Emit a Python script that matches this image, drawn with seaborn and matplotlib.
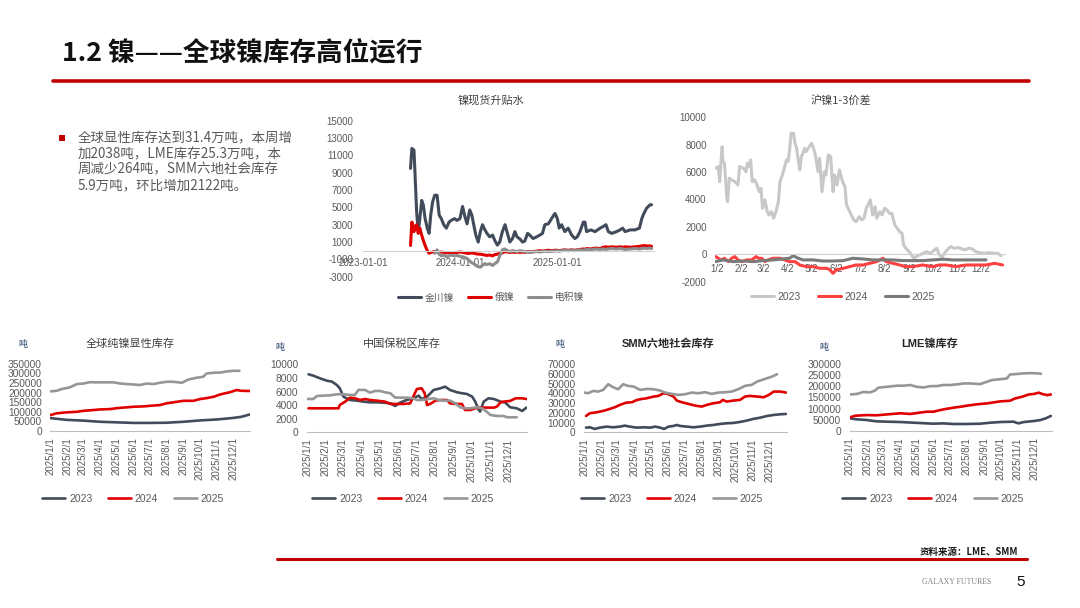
import numpy as np
import pandas as pd
import matplotlib
matplotlib.use('Agg')
import matplotlib.pyplot as plt
import matplotlib.dates as mdates
from matplotlib.lines import Line2D
from matplotlib.patches import Rectangle
from matplotlib.ticker import FuncFormatter
import seaborn as sns

nan = np.nan

# ---------------- data: 镍现货升贴水 ----------------
spot_dates = [
    "2023-06-29", "2023-07-04", "2023-07-12", "2023-07-15", "2023-07-22", "2023-07-28", "2023-08-03", "2023-08-10", "2023-08-16", "2023-08-23",
    "2023-08-31", "2023-09-07", "2023-09-13", "2023-09-20", "2023-09-28", "2023-10-07", "2023-10-15", "2023-10-23", "2023-11-01", "2023-11-11",
    "2023-11-21", "2023-11-29", "2023-12-12", "2023-12-21", "2024-01-01", "2024-01-11", "2024-01-20", "2024-01-28", "2024-02-07", "2024-02-15",
    "2024-02-22", "2024-03-01", "2024-03-10", "2024-03-18", "2024-03-26", "2024-04-04", "2024-04-12", "2024-04-22", "2024-05-03", "2024-05-11",
    "2024-05-21", "2024-05-30", "2024-06-09", "2024-06-19", "2024-06-28", "2024-07-07", "2024-07-17", "2024-07-26", "2024-08-03", "2024-08-14",
    "2024-08-24", "2024-09-01", "2024-09-12", "2024-09-20", "2024-10-03", "2024-10-16", "2024-10-28", "2024-11-07", "2024-11-16", "2024-11-29",
    "2024-12-11", "2024-12-24", "2025-01-02", "2025-01-09", "2025-01-18", "2025-01-30", "2025-02-12", "2025-02-25", "2025-03-09", "2025-03-18",
    "2025-03-28", "2025-04-10", "2025-04-16", "2025-04-22", "2025-05-08", "2025-05-24", "2025-06-12", "2025-06-24", "2025-07-04", "2025-07-13",
    "2025-07-26", "2025-08-13", "2025-08-26", "2025-09-05", "2025-09-14", "2025-10-03", "2025-10-21", "2025-11-07", "2025-11-16", "2025-11-24",
    "2025-12-04", "2025-12-17", "2025-12-23"]
spot_jinchuan = [
    9500, 11800, 11600, 9500, 4500, 2200, 3700, 5800, 5300, 3700,
    2600, 2000, 4100, 5600, 6400, 6400, 4100, 3700, 3000, 2600,
    3300, 3500, 3700, 3500, 3700, 5100, 3900, 3100, 4700, 4100,
    3000, 1800, 1000, 2200, 3000, 2400, 2000, 1600, 1800, 1200,
    650, 1000, 2200, 3000, 2000, 1000, 1400, 2200, 1600, 1350,
    1000, 1100, 2000, 1800, 1400, 1600, 1800, 2000, 3000, 3100,
    3700, 4300, 3700, 2600, 3000, 2200, 2600, 1800, 1400, 1600,
    2200, 3300, 3300, 2200, 2400, 2200, 2600, 2800, 3000, 2200,
    2000, 2200, 2400, 2600, 2200, 2400, 2400, 2600, 3700, 4300,
    4900, 5300, 5300]
spot_russian = [
    600, 3300, 2200, 2800, 3000, 2000, 2600, 1800, 1200, 600,
    0, -300, -200, -150, -100, -150, -200, -150, -200, -250,
    -200, -250, -200, -200, -150, -200, -250, -300, -300, -250,
    -300, -350, -400, -400, -450, -500, -550, -500, -600, -450,
    -400, -300, -250, -100, -150, -200, -150, -200, -150, -200,
    -150, -200, -100, -150, -100, -50, 0, -50, 0, 50,
    0, 50, 50, 0, 50, 100, 50, 100, 50, 100,
    150, 200, 150, 250, 200, 300, 250, 400, 450, 400,
    450, 400, 450, 400, 450, 400, 450, 500, 550, 600,
    550, 550, 500]
spot_electro = [
    nan, nan, nan, nan, nan, nan, nan, nan, nan, nan,
    nan, nan, nan, nan, -300, 100, -400, -600, -500, -700,
    -600, -500, -600, -550, -650, -700, -800, -900, -1200, -1400,
    -1500, -1700, -1850, -1900, -1700, -1500, -1600, -1500, -1700, -1500,
    -1300, -600, 100, 200, 0, -100, 0, -50, -100, 0,
    -50, -100, -150, -200, -150, -100, -150, -100, -50, -100,
    -50, -50, 0, -50, 0, 50, 0, 50, 0, 50,
    100, 50, 100, 150, 100, 200, 150, 200, 150, 200,
    250, 200, 250, 200, 150, 200, 250, 200, 250, 300,
    250, 300, 250]
spot_tick_labels = ["2023-01-01", "2024-01-01", "2025-01-01"]

# ---------------- data: 沪镍1-3价差 (day of year) ----------------
sp23_day = [1, 4, 6, 7, 9, 10, 12, 15, 16, 18, 21, 25, 29, 31, 36, 39, 41, 43, 45, 47,
            50, 53, 56, 58, 60, 63, 66, 68, 71, 74, 77, 80, 82, 85, 88, 90, 92, 94, 96, 99,
            101, 103, 105, 107, 109, 111, 113, 115, 119, 122, 125, 127, 130, 132, 135, 138, 140, 143, 146, 149,
            151, 154, 157, 161, 164, 166, 169, 172, 175, 178, 182, 185, 188, 191, 194, 196, 199, 202, 204, 208,
            211, 214, 217, 220, 223, 227, 230, 233, 236, 238, 241, 245, 248, 251, 254, 258, 263, 267, 272, 277,
            280, 283, 287, 291, 295, 298, 302, 307, 312, 316, 320, 325, 329, 334, 340, 346, 353, 357, 361]
sp23_val = [6280, 6400, 5300, 6280, 7860, 6760, 6640, 4090, 3840, 5550, 5430, 5300, 5060, 6400, 6280, 6030, 6640, 6400, 6890, 5300,
            5430, 5060, 4570, 4820, 3360, 3970, 3110, 2870, 3110, 2630, 3110, 3840, 5300, 5790, 6400, 6890, 6760, 7490, 8830, 8830,
            8100, 7740, 6890, 6160, 7130, 7370, 7740, 7490, 7860, 8100, 7620, 7130, 6030, 7010, 4570, 6030, 5790, 7250, 7130, 4570,
            5790, 5060, 6160, 5300, 4940, 3600, 3240, 2870, 2510, 2380, 2750, 2510, 2630, 3360, 3720, 3970, 2870, 3480, 2630, 3110,
            2870, 3360, 3240, 2990, 2990, 2140, 1900, 1650, 1530, 680, 440, 190, -50, -290, -170, -50, 70, 190, 70, 320,
            440, -50, -170, 190, 440, 560, 440, 490, 390, 320, 440, 390, 190, 120, 70, 120, 70, 70, -100]
sp24_day = [1, 4, 8, 12, 17, 21, 25, 29, 34, 40, 46, 52, 55, 59, 63, 67, 73, 82, 88, 94,
            101, 107, 115, 124, 132, 141, 145, 149, 153, 162, 170, 178, 187, 195, 204, 212, 216, 225, 233, 241,
            250, 262, 275, 283, 292, 304, 317, 330, 342, 353, 363]
sp24_val = [-170, -290, -410, -290, -535, -290, -170, -410, -535, -410, -410, -170, -290, -290, -535, -410, -290, -290, -410, -535,
            -535, -780, -900, -900, -1020, -1020, -1140, -1390, -1140, -1020, -900, -780, -780, -660, -535, -290, -535, -660, -780, -900,
            -900, -780, -900, -780, -780, -900, -780, -780, -780, -660, -780]
sp25_day = [1, 10, 23, 36, 48, 61, 73, 86, 94, 99, 103, 111, 124, 136, 149, 162, 174, 187, 199, 212,
            225, 237, 250, 262, 275, 288, 300, 313, 325, 342]
sp25_val = [-535, -410, -535, -490, -535, -460, -410, -340, -290, -100, -240, -410, -410, -490, -490, -460, -290, -340, -410, -410,
            -410, -460, -460, -460, -410, -360, -410, -410, -410, -410]
spread_tick_days = [2, 33, 61, 92, 122, 153, 183, 214, 245, 275, 306, 336]
spread_tick_labels = ["1/2", "2/2", "3/2", "4/2", "5/2", "6/2", "7/2", "8/2", "9/2", "10/2", "11/2", "12/2"]

# ---------------- data: inventory charts (day of year) ----------------
inv_tick_days = [1, 32, 60, 91, 121, 152, 182, 213, 244, 274, 305, 335]
inv_tick_labels = ["2025/1/1", "2025/2/1", "2025/3/1", "2025/4/1", "2025/5/1", "2025/6/1",
                   "2025/7/1", "2025/8/1", "2025/9/1", "2025/10/1", "2025/11/1", "2025/12/1"]

# 全球纯镍显性库存
g1_2023_day = [1, 30, 61, 91, 122, 152, 183, 213, 244, 274, 305, 335, 350, 365]
g1_2023_val = [67000, 58000, 54000, 48000, 45000, 42000, 42000, 43000, 48000, 55000, 60000, 68000, 74000, 86000]
g1_2024_day = [1, 12, 30, 49, 61, 79, 91, 110, 122, 140, 152, 171, 183, 201, 213, 232, 244, 262, 274, 286, 299, 311, 329, 341, 350, 365]
g1_2024_val = [83000, 92000, 97000, 100000, 105000, 109000, 112000, 114000, 119000, 123000, 126000, 128000, 131000, 135000, 144000,
               152000, 157000, 157000, 166000, 171000, 178000, 190000, 202000, 213000, 209000, 208000]
g1_2025_day = [1, 12, 21, 36, 49, 61, 73, 85, 103, 116, 128, 140, 152, 164, 177, 189, 201, 213, 225, 241, 253, 268, 280, 286, 299, 311, 323, 335, 346]
g1_2025_val = [206000, 209000, 218000, 227000, 244000, 247000, 254000, 253000, 253000, 253000, 247000, 244000, 242000, 239000, 247000,
               244000, 251000, 256000, 256000, 251000, 268000, 277000, 282000, 299000, 303000, 304000, 310000, 313000, 313000]

# 中国保税区库存
g2_2023_day = [3, 11, 22, 33, 42, 50, 55, 61, 66, 72, 83, 94, 105, 116, 128, 139, 147, 155, 166, 177, 186, 191, 200, 211, 222, 230,
               238, 250, 258, 266, 275, 280, 286, 288, 294, 302, 311, 322, 330, 338, 349, 358, 365]
g2_2023_val = [8530, 8330, 7940, 7600, 7450, 6960, 6470, 5240, 5000, 4750, 4660, 4510, 4410, 4410, 4360, 4260, 3870, 4360, 4750, 5000,
               5390, 4900, 5240, 6230, 6470, 6710, 6230, 5880, 5740, 5640, 5240, 4510, 3280, 3040, 4510, 5000, 4900, 4510, 4360, 3680,
               3530, 3140, 3630]
g2_2024_day = [3, 22, 39, 53, 55, 64, 72, 80, 89, 97, 105, 116, 130, 139, 150, 161, 172, 177, 183, 191, 196, 200, 205, 214, 222, 233,
               238, 250, 258, 263, 272, 280, 288, 299, 311, 316, 322, 327, 338, 347, 358, 365]
g2_2024_val = [3530, 3530, 3530, 3530, 4020, 4510, 5100, 5000, 4750, 4900, 4750, 4660, 4510, 4170, 4170, 4170, 4260, 5240, 6370, 6470,
               5740, 4020, 4170, 4660, 4750, 4750, 4260, 4170, 4170, 3280, 3280, 3530, 3630, 3630, 3630, 3770, 4410, 4510, 4610, 5000,
               5000, 4900]
g2_2025_day = [1, 11, 17, 28, 39, 50, 61, 72, 80, 86, 97, 105, 114, 122, 130, 139, 147, 155, 166, 177, 183, 191, 202, 211, 219, 227,
               238, 247, 255, 263, 272, 283, 291, 299, 305, 316, 327, 333, 349]
g2_2025_val = [4900, 4900, 5340, 5390, 5440, 5590, 5590, 5490, 5490, 6230, 6230, 5830, 6080, 6080, 5880, 5740, 5100, 5100, 5100, 5000,
               4750, 4750, 4900, 5000, 4750, 4660, 4660, 4260, 3680, 3530, 3530, 3680, 3530, 3040, 2550, 2400, 2400, 2210, 2210]

# SMM六地社会库存
g3_2023_day = [4, 11, 20, 29, 41, 53, 65, 74, 83, 96, 108, 120, 129, 138, 145, 153, 162, 168, 174, 186, 198, 210, 222, 234, 246, 258,
               270, 282, 294, 306, 319, 331, 343, 355, 365]
g3_2023_val = [4800, 5150, 3440, 4800, 5840, 5150, 5840, 6870, 5840, 4800, 5150, 4800, 5840, 4800, 3440, 5840, 6530, 7560, 6530, 5840,
               5150, 5840, 6870, 7560, 8590, 9280, 9620, 10650, 12030, 13750, 15120, 16840, 17870, 18560, 18900]
g3_2024_day = [4, 11, 23, 35, 47, 56, 65, 77, 87, 96, 105, 114, 126, 135, 144, 153, 162, 168, 177, 189, 201, 213, 222, 234, 246, 251,
               258, 270, 282, 291, 300, 313, 325, 334, 343, 355, 365]
g3_2024_val = [16840, 19590, 20620, 22000, 24050, 25770, 28180, 30580, 30930, 33330, 34360, 35050, 36770, 37460, 40210, 39180, 36770,
               32650, 30930, 29210, 27490, 26460, 28180, 29900, 30930, 33330, 31620, 32650, 33330, 36770, 37460, 36770, 36080, 38490,
               41920, 41920, 40890]
g3_2025_day = [1, 8, 17, 26, 35, 44, 53, 62, 71, 80, 90, 102, 114, 126, 138, 147, 159, 171, 183, 195, 207, 219, 231, 243, 255, 267,
               279, 291, 303, 313, 322, 331, 340, 349]
g3_2025_val = [40890, 40210, 42610, 41920, 43640, 49480, 46390, 44330, 49480, 47770, 47080, 43640, 44670, 44330, 42950, 40890, 39520,
               38490, 39180, 40890, 40210, 41240, 39520, 40890, 41240, 41920, 44330, 47770, 48800, 52230, 53950, 55670, 57390, 59790]

# LME镍库存
g4_2023_day = [1, 13, 31, 49, 68, 92, 116, 140, 152, 170, 189, 213, 237, 255, 273, 297, 306, 316, 334, 346, 355, 365]
g4_2023_val = [56000, 52000, 49000, 43000, 41500, 40000, 37000, 34000, 32600, 34000, 31200, 31200, 32600, 37000, 40000, 41500, 34000,
               40000, 44500, 49000, 56000, 67000]
g4_2024_day = [1, 10, 31, 49, 68, 92, 110, 128, 140, 152, 164, 176, 189, 201, 213, 231, 249, 273, 291, 300, 313, 325, 334, 343, 349, 358, 365]
g4_2024_val = [61000, 68000, 71000, 70000, 74000, 79000, 76000, 82000, 86000, 86000, 93000, 99000, 104000, 108000, 113000, 119000,
               123000, 132000, 135000, 145000, 153000, 163000, 165000, 171000, 165000, 160000, 163000]
g4_2025_day = [1, 13, 25, 37, 46, 52, 68, 86, 98, 110, 122, 134, 146, 158, 170, 183, 195, 207, 219, 237, 246, 258, 273, 285, 291, 303,
               316, 328, 340, 347]
g4_2025_val = [163000, 165000, 174000, 172000, 180000, 193000, 197000, 202000, 202000, 205000, 197000, 194000, 200000, 200000, 205000,
               205000, 208000, 212000, 212000, 209000, 217000, 227000, 231000, 234000, 252000, 254000, 257000, 258000, 257000, 255000]

years = ["2023", "2024", "2025"]
spot_names = ["金川镍", "俄镍", "电积镍"]

bullet_lines = ["全球显性库存达到31.4万吨，本周增",
                "加2038吨，LME库存25.3万吨，本",
                "周减少264吨，SMM六地社会库存",
                "5.9万吨，环比增加2122吨。"]

# ---------------- style ----------------
sns.set_theme(style="white")
plt.rcParams['font.family'] = ['Liberation Sans', 'Noto Sans CJK SC', 'DejaVu Sans']
plt.rcParams['axes.unicode_minus'] = False

W, H = 1080, 608
fig = plt.figure(figsize=(10.8, 6.08), dpi=100)
fig.patch.set_facecolor('white')

CJK = ['Noto Sans CJK SC', 'DejaVu Sans']
TICK = '#595959'


def fx(x):
    return x / W


def fy(y):
    return 1 - y / H


def px_axes(l, t, r, b):
    return fig.add_axes([l / W, 1 - b / H, (r - l) / W, (b - t) / H])


def long_df(series):
    frames = [pd.DataFrame({'x': x, 'y': y, 's': name}) for name, (x, y) in series.items()]
    return pd.concat(frames, ignore_index=True).dropna(subset=['y'])


def base_style(ax):
    for s in ['top', 'right', 'left']:
        ax.spines[s].set_visible(False)
    ax.spines['bottom'].set_color('#d0d0d0')
    ax.spines['bottom'].set_linewidth(0.8)
    ax.set_xlabel('')
    ax.set_ylabel('')
    ax.grid(False)
    ax.set_facecolor('none')
    ax.yaxis.set_major_formatter(FuncFormatter(lambda v, p: f"{int(round(v))}"))


def add_legend(ax, labels, colors, cx, cy, fs, lw, hl=2.2, cs=1.6):
    handles = [Line2D([], [], color=c, lw=lw) for c in colors]
    ax.legend(handles, labels, loc='center', bbox_to_anchor=(fx(cx), fy(cy)),
              bbox_transform=fig.transFigure, ncol=len(labels), frameon=False,
              handlelength=hl, handletextpad=0.4, columnspacing=cs,
              labelcolor=TICK, prop={'family': ['Liberation Sans', 'Noto Sans CJK SC'], 'size': fs})


# ---------------- header ----------------
fig.text(fx(62), fy(54), "1.2 镍——全球镍库存高位运行", ha='left', va='center',
         fontsize=19.2, fontweight='bold', color='#111111', family=CJK)
fig.add_artist(Line2D([fx(53), fx(1029)], [fy(81), fy(81)], color='#c00000', lw=2.6))

# bullet
fig.add_artist(Rectangle((fx(59), fy(141)), 6 / W, 6 / H, color='#c00000', lw=0))
for i, line in enumerate(bullet_lines):
    fig.text(fx(78), fy(138.5 + 15.5 * i), line, ha='left', va='center', fontsize=9.7,
             color='#595959', family=CJK)

# ---------------- chart A: 镍现货升贴水 ----------------
axA = px_axes(363, 120.7, 654, 276.7)
palA = {'金川镍': '#414b5a', '俄镍': '#e00000', '电积镍': '#8c8c8c'}
dA = pd.to_datetime(spot_dates)
dfA = long_df({'金川镍': (dA, spot_jinchuan), '俄镍': (dA, spot_russian), '电积镍': (dA, spot_electro)})
sns.lineplot(data=dfA, x='x', y='y', hue='s', hue_order=spot_names, palette=palA,
             linewidth=2.2, legend=False, ax=axA, estimator=None)
base_style(axA)
axA.set_ylim(-3000, 15000)
axA.set_yticks(list(range(-3000, 15001, 2000)))
axA.set_xlim(pd.Timestamp('2023-01-01'), pd.Timestamp('2026-01-01'))
axA.set_xticks(pd.to_datetime(spot_tick_labels))
axA.xaxis.set_major_formatter(mdates.DateFormatter('%Y-%m-%d'))
axA.spines['bottom'].set_position(('data', 0))
axA.tick_params(axis='both', labelsize=7, colors=TICK, length=0)
axA.tick_params(axis='y', pad=7)
axA.tick_params(axis='x', pad=5)
fig.text(fx(491), fy(100), "镍现货升贴水", ha='center', va='center', fontsize=8, color='#404040', family=CJK)
add_legend(axA, spot_names, [palA[n] for n in spot_names], 491, 297.5, 7, 2.2, hl=2.4, cs=1.4)

# ---------------- chart B: 沪镍1-3价差 ----------------
axB = px_axes(715, 117.3, 1005, 281.7)
palB = {'2023': '#c8c8c8', '2024': '#ff4040', '2025': '#7a7a7a'}
dfB = long_df({'2023': (sp23_day, sp23_val), '2024': (sp24_day, sp24_val), '2025': (sp25_day, sp25_val)})
sns.lineplot(data=dfB, x='x', y='y', hue='s', hue_order=years, palette=palB,
             linewidth=2.2, legend=False, ax=axB, estimator=None)
base_style(axB)
axB.set_ylim(-2000, 10000)
axB.set_yticks(list(range(-2000, 10001, 2000)))
axB.set_xlim(0, 366)
axB.set_xticks(spread_tick_days)
axB.set_xticklabels(spread_tick_labels)
axB.spines['bottom'].set_position(('data', 0))
axB.tick_params(axis='both', labelsize=7, colors=TICK, length=0)
axB.tick_params(axis='y', pad=6)
axB.tick_params(axis='x', pad=7)
fig.text(fx(841), fy(100), "沪镍1-3价差", ha='center', va='center', fontsize=8, color='#404040', family=CJK)
add_legend(axB, years, [palB[y] for y in years], 843, 297, 7.5, 2.2, hl=2.2, cs=1.6)

# ---------------- bottom inventory charts ----------------
palI = {'2023': '#414b5a', '2024': '#e00000', '2025': '#969696'}
inv_specs = [
    (50.1, 363.7, 250.3, 431.0, 350000, 50000, "全球纯镍显性库存", 'normal', 130, (22.7, 344),
     {'2023': (g1_2023_day, g1_2023_val), '2024': (g1_2024_day, g1_2024_val), '2025': (g1_2025_day, g1_2025_val)}, 133),
    (306.7, 364.3, 527.0, 432.3, 10000, 2000, "中国保税区库存", 'normal', 402, (280, 348),
     {'2023': (g2_2023_day, g2_2023_val), '2024': (g2_2024_day, g2_2024_val), '2025': (g2_2025_day, g2_2025_val)}, 403),
    (583.8, 364.3, 786.5, 432.3, 70000, 10000, "SMM六地社会库存", 'bold', 668, (560, 344),
     {'2023': (g3_2023_day, g3_2023_val), '2024': (g3_2024_day, g3_2024_val), '2025': (g3_2025_day, g3_2025_val)}, 672),
    (849.5, 363.7, 1051.5, 431.0, 300000, 50000, "LME镍库存", 'bold', 930, (824, 348),
     {'2023': (g4_2023_day, g4_2023_val), '2024': (g4_2024_day, g4_2024_val), '2025': (g4_2025_day, g4_2025_val)}, 933),
]

for (l, t, r, b, ymax, ystep, title, weight, tx, unit_pos, series, lcx) in inv_specs:
    ax = px_axes(l, t, r, b)
    df = long_df(series)
    sns.lineplot(data=df, x='x', y='y', hue='s', hue_order=years, palette=palI,
                 linewidth=1.9, legend=False, ax=ax, estimator=None)
    base_style(ax)
    ax.spines['bottom'].set_color('#bfbfbf')
    ax.set_ylim(0, ymax)
    ax.set_yticks(list(range(0, ymax + 1, ystep)))
    ax.set_xlim(0, 366)
    ax.set_xticks(inv_tick_days)
    ax.set_xticklabels(inv_tick_labels, rotation=90)
    ax.tick_params(axis='y', labelsize=7.3, colors=TICK, length=0, pad=6)
    ax.tick_params(axis='x', labelsize=7, colors=TICK, length=3, width=0.8, pad=1.5)
    ax.tick_params(axis='x', which='major', color='#bfbfbf')
    col = '#262626' if weight == 'bold' else '#404040'
    fig.text(fx(tx), fy(343.5), title, ha='center', va='center', fontsize=8, color=col,
             fontweight=weight, family=['Liberation Sans', 'Noto Sans CJK SC'])
    fig.text(fx(unit_pos[0]), fy(unit_pos[1]), "吨", ha='center', va='center', fontsize=6.5,
             color='#1f3864', family=CJK)
    add_legend(ax, years, [palI[y] for y in years], lcx, 499, 7.5, 1.9, hl=2.2, cs=1.5)

# ---------------- footer ----------------
fig.add_artist(Line2D([fx(277), fx(1027)], [fy(559), fy(559)], color='#c00000', lw=2.2))
fig.text(fx(1018), fy(551.5), "资料来源：LME、SMM", ha='right', va='center', fontsize=6.8,
         fontweight='bold', color='#1a1a1a', family=CJK)
fig.text(fx(957), fy(582.5), "GALAXY FUTURES", ha='center', va='center', fontsize=5.6,
         color='#7f7f7f', family=['Liberation Serif', 'DejaVu Serif'])
fig.text(fx(1021), fy(582.5), "5", ha='center', va='center', fontsize=11, color='#111111',
         family=['Liberation Sans Narrow', 'Liberation Sans'])

fig.savefig('out.png', dpi=100, facecolor='white')
